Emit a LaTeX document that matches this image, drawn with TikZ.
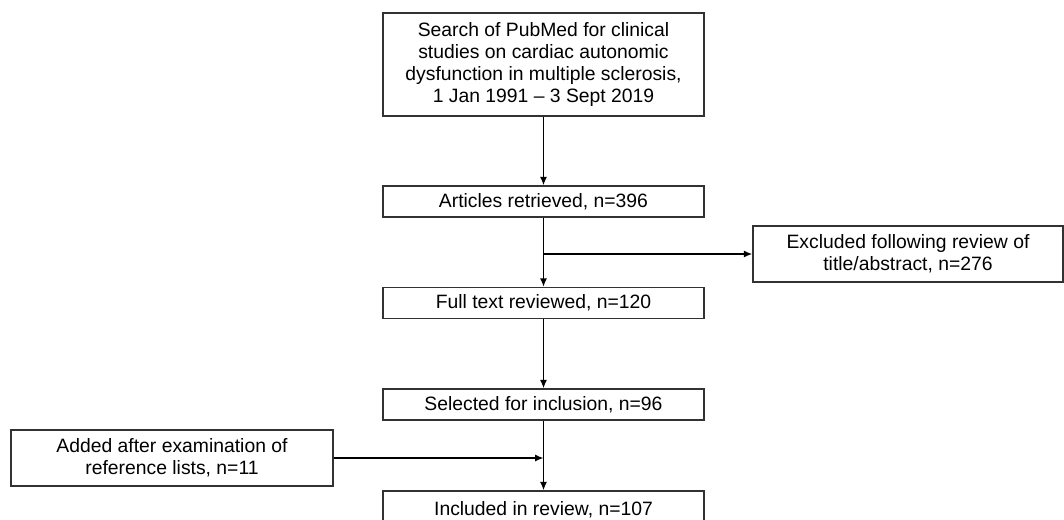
\documentclass[tikz,border=0pt]{standalone}
\usepackage{fontspec}
\setmainfont{Liberation Sans}
\usepackage{tikz}
\usetikzlibrary{positioning,arrows.meta,calc}
\definecolor{edge}{RGB}{50,50,50}
\tikzset{
  box/.style={draw=edge,line width=1pt,align=center,inner sep=2pt,
    font=\fontsize{13.75pt}{15.6pt}\selectfont,minimum width=321*0.025cm},
  slim/.style={box,minimum height=31*0.025cm},
  side/.style={box,minimum height=56*0.025cm},
  flow/.style={-{Latex[length=6pt,width=5pt]},line width=1pt},
}
\begin{document}
\begin{tikzpicture}[x=0.025cm,y=-0.025cm]
  \useasboundingbox (0,0) rectangle (1064,519);
  \clip (0,0) rectangle (1064,519);
  \node[box,minimum height=103*0.025cm] (search) at (543.5,64.5) {Search of PubMed for clinical\\studies on cardiac autonomic\\dysfunction in multiple sclerosis,\\1 Jan 1991 -- 3 Sept 2019};
  \node[slim] (art) at (543.5,201.5) {Articles retrieved, n=396};
  \node[slim] (full) at (543.5,303) {Full text reviewed, n=120};
  \node[slim] (sel) at (543.5,404.5) {Selected for inclusion, n=96};
  \node[slim,minimum height=38*0.025cm] (inc) at (543.5,510) {Included in review, n=107};
  \node[side,minimum width=310*0.025cm] (exc) at (908,254) {Excluded following review of\\title/abstract, n=276};
  \node[side,minimum width=322*0.025cm] (add) at (172,458) {Added after examination of\\reference lists, n=11};
  \coordinate (brexc) at (art.south |- exc.west);
  \coordinate (bradd) at (sel.south |- add.east);
  \draw[flow] (search) -- (art);
  \draw[flow] (art) -- (full);
  \draw[flow] (brexc) -- (exc);
  \draw[flow] (full) -- (sel);
  \draw[flow] (sel) -- (inc);
  \draw[flow] (add) -- (bradd);
\end{tikzpicture}
\end{document}
